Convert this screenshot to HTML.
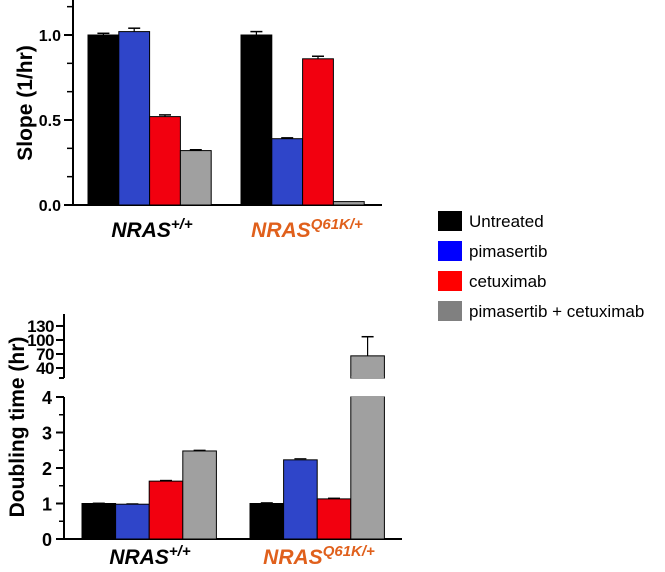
<!DOCTYPE html>
<html><head><meta charset="utf-8"><style>
body{margin:0;background:#fff;width:665px;height:567px;overflow:hidden}
svg{font-family:"Liberation Sans",Arial,sans-serif}
</style></head><body>
<svg id="c" width="665" height="567"></svg>
<script>
const groups=["NRAS","NRAS"];
const treatments=["Untreated","pimasertib","cetuximab","pimasertib + cetuximab"];
const slopeVals=[[1.0,1.02,0.52,0.32],[1.0,0.39,0.86,0.02]];
const slopeErr=[[0.01,0.02,0.01,0.005],[0.02,0.005,0.015,0]];
const dtVals=[[1.0,0.98,1.63,2.48],[1.0,2.23,1.13,66]];
const dtErr=[[0.01,0.01,0.02,0.02],[0.02,0.03,0.02,41]];
const slopeTicks=["0.0","0.5","1.0"];
const dtLowTicks=["0","1","2","3","4"];
const dtHighTicks=["40","70","100","130"];
const barColors=["#000","#2f45c9","#f2000f","#a0a0a0"];
const legendColors=["#000","#0000ff","#ff0000","#808080"];
const NS="http://www.w3.org/2000/svg",svg=document.getElementById("c");
function el(t,a,p){const e=document.createElementNS(NS,t);for(const k in a)e.setAttribute(k,a[k]);(p||svg).appendChild(e);return e;}
// top chart
const yS=v=>205-v*170;
const xTop=[88,241],bw=30.8;
let e=el("line",{x1:73,y1:0,x2:73,y2:206,stroke:"#000","stroke-width":2});

e=el("line",{x1:72,y1:205,x2:382,y2:205,stroke:"#000","stroke-width":2});

for(let i=0;i<=7;i++){const v=i/6;el("line",{x1:67,y1:yS(v),x2:73,y2:yS(v),stroke:"#000","stroke-width":1.5});}
slopeTicks.forEach(t=>{const v=parseFloat(t);el("line",{x1:64,y1:yS(v),x2:73,y2:yS(v),stroke:"#000","stroke-width":2});
e=el("text",{x:61,y:yS(v)+6,"text-anchor":"end","font-size":16,"font-weight":"bold"});e.textContent=t;
});
e=el("text",{transform:"translate(32,103) rotate(-90)","text-anchor":"middle","font-size":21,"font-weight":"bold"});e.textContent="Slope (1/hr)";

slopeVals.forEach((g,gi)=>g.forEach((v,i)=>{const x=xTop[gi]+i*bw;
e=el("rect",{x:x,y:yS(v),width:bw,height:205-yS(v),fill:barColors[i],stroke:"#000","stroke-width":1});

const er=slopeErr[gi][i];if(er>0){const cx=x+bw/2;el("line",{x1:cx,y1:yS(v),x2:cx,y2:yS(v+er),stroke:"#000","stroke-width":1.2});el("line",{x1:cx-6,y1:yS(v+er),x2:cx+6,y2:yS(v+er),stroke:"#000","stroke-width":1.5});}}));
function xlab(x,y,gi,name){const t=el("text",{x:x,y:y,"text-anchor":"middle","font-size":21,"font-weight":"bold","font-style":"italic",fill:gi?"#e0601c":"#000"});

t.textContent=groups[gi];const s=el("tspan",{"font-size":15,dy:-8},t);s.textContent=gi?"Q61K/+":"+/+";}
xlab(152,237,0,"slope-x-label-wt");xlab(307,237,1,"slope-x-label-mut");
// bottom chart
const yL=v=>539-v*35.5,yH=v=>368-(v-40)*0.467;
const xBot=[82,250],bw2=33.6;
e=el("line",{x1:64,y1:397,x2:64,y2:540,stroke:"#000","stroke-width":2});

e=el("line",{x1:64,y1:314,x2:64,y2:378,stroke:"#000","stroke-width":2});

el("line",{x1:59,y1:378,x2:64,y2:378,stroke:"#000","stroke-width":2});
e=el("line",{x1:63,y1:539,x2:402,y2:539,stroke:"#000","stroke-width":2});

for(let v=0.5;v<4;v+=1)el("line",{x1:59,y1:yL(v),x2:64,y2:yL(v),stroke:"#000","stroke-width":1.5});
dtLowTicks.forEach(t=>{const v=+t;el("line",{x1:56,y1:yL(v),x2:64,y2:yL(v),stroke:"#000","stroke-width":2});
e=el("text",{x:52,y:yL(v)+7,"text-anchor":"end","font-size":18,"font-weight":"bold"});e.textContent=t;
});
dtHighTicks.forEach(t=>{const v=+t;el("line",{x1:56,y1:yH(v),x2:64,y2:yH(v),stroke:"#000","stroke-width":2});
e=el("text",{x:54,y:yH(v)+6,"text-anchor":"end","font-size":17,"font-weight":"bold","letter-spacing":-0.5});e.textContent=t;
});
e=el("text",{transform:"translate(24,427) rotate(-90)","text-anchor":"middle","font-size":21,"font-weight":"bold"});e.textContent="Doubling time (hr)";

dtVals.forEach((g,gi)=>g.forEach((v,i)=>{const x=xBot[gi]+i*bw2,cx=x+bw2/2,er=dtErr[gi][i];
if(v<=4){e=el("rect",{x:x,y:yL(v),width:bw2,height:539-yL(v),fill:barColors[i],stroke:"#000","stroke-width":1});

el("line",{x1:cx-6,y1:yL(v+er),x2:cx+6,y2:yL(v+er),stroke:"#000","stroke-width":1.2});}
else{e=el("rect",{x:x,y:397,width:bw2,height:142,fill:barColors[i],stroke:"#000","stroke-width":1});

el("rect",{x:x+0.5,y:396,width:bw2-1,height:2,fill:barColors[i]});
e=el("rect",{x:x,y:yH(v),width:bw2,height:378-yH(v),fill:barColors[i],stroke:"#000","stroke-width":1});

el("rect",{x:x+0.5,y:376,width:bw2-1,height:3,fill:barColors[i]});
el("line",{x1:cx,y1:yH(v),x2:cx,y2:yH(v+er),stroke:"#000","stroke-width":1.2});
el("line",{x1:cx-6,y1:yH(v+er),x2:cx+6,y2:yH(v+er),stroke:"#000","stroke-width":1.5});}}));
xlab(150,564,0,"doubling-x-label-wt");xlab(319,564,1,"doubling-x-label-mut");
// legend
treatments.forEach((t,i)=>{const y=211+i*30;
e=el("rect",{x:438,y:y,width:24,height:20,fill:legendColors[i]});

e=el("text",{x:469,y:y+16,"font-size":17});e.textContent=t;
});
</script>
</body></html>
